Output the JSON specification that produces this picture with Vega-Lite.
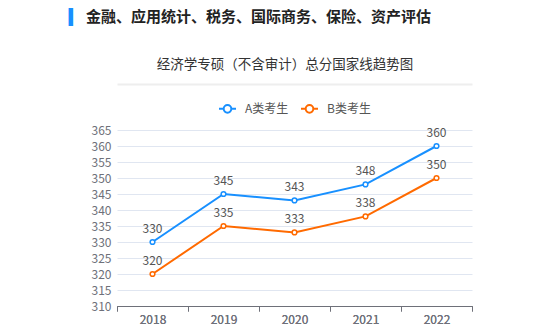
{
  "$schema": "https://vega.github.io/schema/vega-lite/v6.json",
  "width": 355,
  "height": 176,
  "autosize": {"type": "none"},
  "padding": {"left": 117, "top": 130, "right": 88, "bottom": 30},
  "background": "white",
  "title": {
    "text": "金融、应用统计、税务、国际商务、保险、资产评估",
    "anchor": "start",
    "frame": "group",
    "fontSize": 15,
    "fontWeight": "bold",
    "color": "#222222",
    "font": "Noto Sans CJK SC",
    "dx": -31,
    "offset": -16
  },
  "data": {
    "values": [
      {"year": "2018", "type": "A类考生", "score": 330},
      {"year": "2019", "type": "A类考生", "score": 345},
      {"year": "2020", "type": "A类考生", "score": 343},
      {"year": "2021", "type": "A类考生", "score": 348},
      {"year": "2022", "type": "A类考生", "score": 360},
      {"year": "2018", "type": "B类考生", "score": 320},
      {"year": "2019", "type": "B类考生", "score": 335},
      {"year": "2020", "type": "B类考生", "score": 333},
      {"year": "2021", "type": "B类考生", "score": 338},
      {"year": "2022", "type": "B类考生", "score": 350}
    ]
  },
  "encoding": {
    "x": {
      "field": "year",
      "type": "ordinal",
      "scale": {"type": "band", "paddingInner": 0, "paddingOuter": 0},
      "axis": {
        "orient": "bottom",
        "title": null,
        "labelAngle": 0,
        "tickBand": "extent",
        "tickSize": 5,
        "tickColor": "#6E7079",
        "domainColor": "#6E7079",
        "labelColor": "#6E7079",
        "labelFontSize": 12,
        "labelPadding": 3,
        "grid": false
      }
    },
    "y": {
      "field": "score",
      "type": "quantitative",
      "scale": {"domain": [310, 365], "nice": false, "zero": false},
      "axis": {
        "values": [310, 315, 320, 325, 330, 335, 340, 345, 350, 355, 360, 365],
        "title": "▎",
        "titleAngle": 0,
        "titleColor": "#1890ff",
        "titleFontSize": 18,
        "titleFontWeight": "normal",
        "titleX": -49,
        "titleY": -121,
        "titleAlign": "left",
        "titleBaseline": "top",
        "domain": false,
        "ticks": false,
        "tickSize": 0,
        "labelPadding": 6,
        "labelColor": "#6E7079",
        "labelFontSize": 12,
        "gridColor": "#E0E6F1"
      }
    },
    "color": {
      "field": "type",
      "type": "nominal",
      "scale": {"domain": ["A类考生", "B类考生"], "range": ["#1890ff", "#ff6a00"]},
      "legend": {
        "title": null,
        "orient": "none",
        "direction": "horizontal",
        "legendX": 101,
        "legendY": -31,
        "symbolType": "M-1,0L-0.45,0M0.45,0L1,0M0.45,0A0.45,0.45,0,1,1,-0.45,0A0.45,0.45,0,1,1,0.45,0",
        "symbolSize": 289,
        "symbolStrokeWidth": 2,
        "symbolFillColor": "white",
        "labelColor": "#555555",
        "labelFontSize": 12,
        "labelOffset": 8,
        "columnPadding": 8
      }
    }
  },
  "layer": [
    {
      "mark": {"type": "line", "strokeWidth": 2},
      "encoding": {
        "x": {
          "field": "year",
          "type": "ordinal",
          "axis": {
            "orient": "top",
            "offset": 46,
            "labels": false,
            "ticks": false,
            "grid": false,
            "domainColor": "#EEEEEE",
            "domainWidth": 2,
            "title": "经济学专硕（不含审计）总分国家线趋势图",
            "titleFontSize": 13.5,
            "titleFontWeight": "normal",
            "titleColor": "#333333",
            "titleX": 167.5,
            "titlePadding": 13
          }
        }
      }
    },
    {
      "mark": {"type": "point", "filled": false, "fill": "white", "fillOpacity": 1, "size": 22, "strokeWidth": 1.5, "opacity": 1}
    },
    {
      "mark": {"type": "text", "dy": -13, "fontSize": 12, "color": "#555555"},
      "encoding": {
        "text": {"field": "score", "type": "quantitative"},
        "color": {"value": "#555555"}
      }
    }
  ],
  "resolve": {"axis": {"x": "independent"}},
  "config": {
    "font": "Noto Sans CJK SC",
    "view": {"stroke": null}
  }
}
